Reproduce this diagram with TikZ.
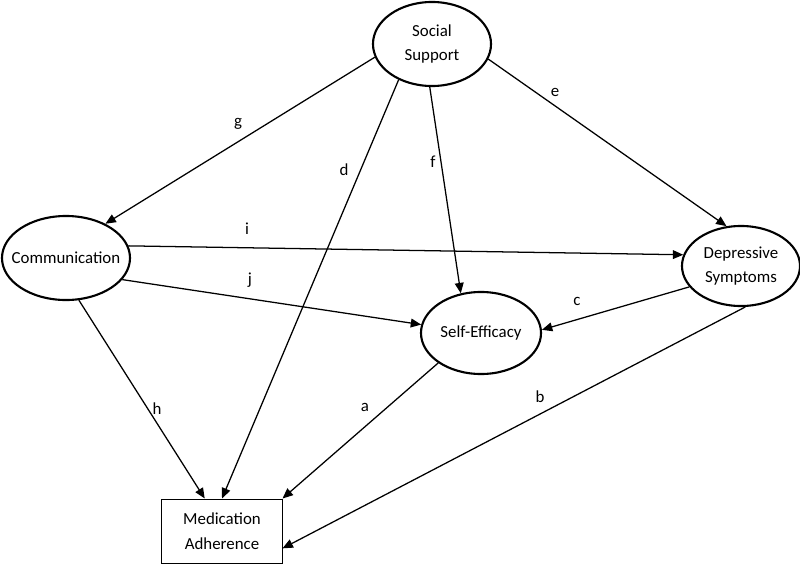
\documentclass[tikz,border=0pt]{standalone}
\usepackage{fontspec}
\setmainfont{Carlito}
\usetikzlibrary{shapes.geometric,arrows.meta}

\begin{document}
\begin{tikzpicture}
  [
  x=0.025cm, y=-0.025cm,
  font=\fontsize{12}{17.5}\selectfont,
  construct/.style={ellipse, draw=black, line width=1.5pt, inner xsep=-8pt, inner ysep=0pt, align=center},
  outcome/.style={rectangle, draw=black, line width=0.7pt, minimum width=3cm, minimum height=1.6cm, align=center},
  path/.style={line width=0.9pt, -{Triangle[length=2.6mm,width=2.2mm]}},
  lbl/.style={inner sep=1pt}
  ]

\useasboundingbox (0,0) rectangle (800,565);

\node[construct, minimum width=2.95cm, minimum height=2.1cm] (social) at (432,44) {Social\\Support};
\node[construct, minimum width=3.2cm, minimum height=2.1cm] (comm) at (66,258) {Communication};
\node[construct, minimum width=2.95cm, minimum height=2.0cm] (depr) at (741,266) {Depressive\\Symptoms};
\node[construct, minimum width=3.0cm, minimum height=2.05cm] (eff) at (481,333) {Self-Efficacy};
\node[outcome] (adh) at (222,531) {Medication\\Adherence};

\node[lbl] (lg) at (238,124) {g};
\node[lbl] (ld) at (344,170) {d};
\node[lbl] (lf) at (433,162) {f};
\node[lbl] (le) at (555,92) {e};
\node[lbl] (li) at (247,229) {i};
\node[lbl] (lj) at (250,280) {j};
\node[lbl] (lc) at (577,301) {c};
\node[lbl] (lh) at (157,409) {h};
\node[lbl] (la) at (365,407) {a};
\node[lbl] (lb) at (540,397) {b};

\draw[path] (social.193) -- (comm.41);
\draw[path] (social.227) -- (adh.north);
\draw[path] (social.267) -- (eff.117);
\draw[path] (social.345) -- (depr.110);
\draw[path] (comm.11) -- (depr.169);
\draw[path] (comm.339) -- (eff.172);
\draw[path] (comm.287) -- (adh.118);
\draw[path] (depr.202) -- (eff.3);
\draw[path] (depr.276) -- (adh.344);
\draw[path] (eff.215) -- (adh.north east);
\end{tikzpicture}
\end{document}
